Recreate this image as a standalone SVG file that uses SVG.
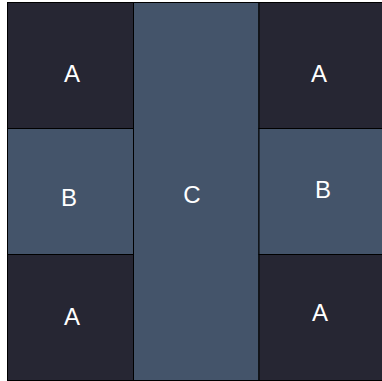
<svg xmlns="http://www.w3.org/2000/svg" width="382" height="381" viewBox="0 0 382 381">
<style>
.a{fill:#262633;stroke:#000;stroke-width:1}
.b{fill:#44546a;stroke:#000;stroke-width:1}
text{font-family:"Liberation Sans",Arial,sans-serif;font-size:24px;fill:#fff;text-anchor:middle}
</style>
<rect width="382" height="381" fill="#fff"/>
<g id="a1"><rect class="a" x="7.5" y="2.5" width="126" height="126"/><text x="72" y="82">A</text></g>
<g id="b1"><rect class="b" x="7.5" y="128.5" width="126" height="126"/><text x="69" y="206">B</text></g>
<g id="a2"><rect class="a" x="7.5" y="254.5" width="126" height="126"/><text x="72" y="325">A</text></g>
<g id="c"><rect class="b" x="133.5" y="2.5" width="125.5" height="378"/><text x="192" y="203">C</text></g>
<g id="a3"><rect class="a" x="259" y="2.5" width="124" height="126"/><text x="319" y="82">A</text></g>
<g id="b2"><rect class="b" x="259" y="128.5" width="124" height="126"/><text x="323" y="198">B</text></g>
<g id="a4"><rect class="a" x="259" y="254.5" width="124" height="126"/><text x="320" y="321">A</text></g>
<g id="connectors"></g>
</svg>
